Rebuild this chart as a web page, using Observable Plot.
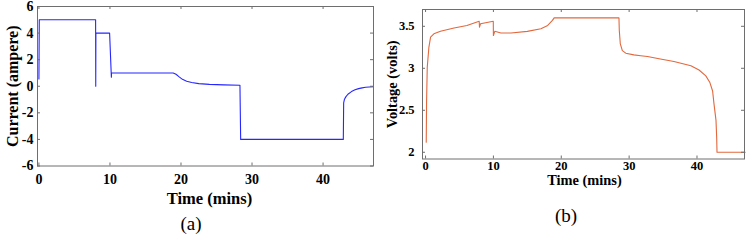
<!DOCTYPE html>
<html><head><meta charset="utf-8">
<script src="https://cdn.jsdelivr.net/npm/d3@7"></script>
<script src="https://cdn.jsdelivr.net/npm/@observablehq/plot@0.6"></script>
<style>
body{margin:0;background:#fff;}
#wrap{position:relative;width:747px;height:243px;overflow:hidden;font-family:"Liberation Serif","Times New Roman",serif;background:#fff;}
.panel{position:absolute;top:0;}
.cap{position:absolute;font-size:19px;line-height:1;transform:translate(-50%,-50%);white-space:nowrap;color:#000;}
</style></head><body>
<div id="wrap"></div>
<script>
// ---- Panel (a): current vs time ----
const timeA = [0, 0.05, 7.98, 8.0, 8.02, 9.95, 10.2, 10.22, 18.9, 19.3, 19.7, 20.2, 20.8, 21.5, 22.5, 24, 26, 28.3, 28.4, 42.85, 42.9, 43.0, 43.2, 43.5, 44, 44.5, 45, 45.5, 46, 46.5, 47.1];
const currentA = [0.55, 5.0, 5.0, 0.0, 4.0, 4.0, 0.68, 1.0, 1.0, 0.9, 0.72, 0.52, 0.38, 0.28, 0.2, 0.14, 0.1, 0.08, -4.0, -4.0, -1.25, -1.0, -0.8, -0.6, -0.4, -0.27, -0.18, -0.12, -0.08, -0.06, -0.04];
const xTicks = [0, 10, 20, 30, 40];
const yTicksA = [-6, -4, -2, 0, 2, 4, 6];
const xLabel = ["Time (mins)"];
const yLabelA = ["Current (ampere)"];
const captionA = "(a)";

// ---- Panel (b): voltage vs time ----
const timeB = [0.1, 0.15, 0.25, 0.49, 0.74, 1.23, 2.2, 4.2, 6.1, 7.9, 7.95, 8.1, 9.98, 10.0, 10.2, 11.1, 12.6, 15.0, 17.0, 18.0, 18.7, 18.95, 28.5, 28.55, 28.7, 29.0, 29.5, 30.7, 31.7, 32.7, 34.6, 36.6, 39.1, 40.3, 41.3, 41.9, 42.3, 42.5, 42.8, 42.9, 42.95, 47.1];
const voltageB = [2.12, 2.6, 3.01, 3.25, 3.37, 3.41, 3.44, 3.48, 3.51, 3.56, 3.49, 3.53, 3.56, 3.39, 3.44, 3.42, 3.42, 3.44, 3.47, 3.51, 3.57, 3.6, 3.6, 3.45, 3.29, 3.21, 3.18, 3.16, 3.15, 3.14, 3.11, 3.08, 3.03, 2.98, 2.91, 2.83, 2.73, 2.58, 2.38, 2.18, 2.0, 2.0];
const yTicksB = [2, 2.5, 3, 3.5];
const yLabelB = ["Voltage (volts)"];
const captionB = "(b)";

const frameColor = "#6e6e6e";
const font = '"Liberation Serif","Times New Roman",serif';

function panel(cfg) {
  const data = cfg.t.map((t, i) => ({t, v: cfg.v[i]}));
  const fw = cfg.width - cfg.ml - cfg.mr;
  const fh = cfg.height - cfg.mt - cfg.mb;
  const tl = 3;
  return Plot.plot({
    width: cfg.width,
    height: cfg.height,
    marginLeft: cfg.ml, marginRight: cfg.mr, marginTop: cfg.mt, marginBottom: cfg.mb,
    style: {fontFamily: font, fontWeight: "bold", background: "transparent", color: "#000", overflow: "visible"},
    x: {domain: cfg.xDomain},
    y: {domain: cfg.yDomain},
    marks: [
      Plot.line(data, {x: "t", y: "v", stroke: cfg.color, strokeWidth: 1.1}),
      Plot.frame({stroke: frameColor, strokeWidth: 1}),
      Plot.tickX(xTicks, {x: d => d, insetTop: fh - tl, stroke: frameColor}),
      Plot.tickX(xTicks, {x: d => d, insetBottom: fh - tl, stroke: frameColor}),
      Plot.tickY(cfg.yTicks, {y: d => d, insetRight: fw - tl, stroke: frameColor}),
      Plot.tickY(cfg.yTicks, {y: d => d, insetLeft: fw - tl, stroke: frameColor}),
      Plot.axisX(xTicks, {tickSize: 0, tickPadding: cfg.xPad, fontSize: cfg.tickFont, label: null, tickFormat: d => String(d)}),
      Plot.axisY(cfg.yTicks, {tickSize: 0, tickPadding: cfg.yPad, fontSize: cfg.tickFont, label: null, tickFormat: d => String(d)}),
      Plot.text(xLabel, {text: d => d, frameAnchor: "bottom", dy: cfg.xLabDy, dx: cfg.xLabDx, textAnchor: "middle", lineAnchor: "middle", fontSize: cfg.labFont, fontWeight: "bold"}),
      Plot.text(cfg.yLabel, {text: d => d, frameAnchor: "left", dx: cfg.yLabDx, rotate: -90, textAnchor: "middle", lineAnchor: "middle", fontSize: cfg.yLabFont, fontWeight: "bold"})
    ]
  });
}

const wrap = document.getElementById("wrap");

const pa = panel({
  t: timeA, v: currentA, yTicks: yTicksA, yLabel: yLabelA,
  width: 374, height: 243, ml: 37, mr: 1, mt: 6, mb: 77.5,
  xDomain: [-0.2, 47.1], yDomain: [-6, 6], color: "#2626ff",
  xPad: 8, yPad: 4, tickFont: 14, labFont: 16.5, yLabFont: 16,
  xLabDy: 33, xLabDx: 4, yLabDx: -25
});
const da = document.createElement("div");
da.className = "panel"; da.style.left = "0px";
da.appendChild(pa);
wrap.appendChild(da);

const pb = panel({
  t: timeB, v: voltageB, yTicks: yTicksB, yLabel: yLabelB,
  width: 373, height: 243, ml: 48, mr: 3, mt: 9, mb: 84.5,
  xDomain: [-0.45, 47.0], yDomain: [1.92, 3.7], color: "#e2683e",
  xPad: 2, yPad: 8, tickFont: 12.5, labFont: 14.4, yLabFont: 14.4,
  xLabDy: 21.5, xLabDx: 1, yLabDx: -30
});
const db = document.createElement("div");
db.className = "panel"; db.style.left = "374px";
db.appendChild(pb);
wrap.appendChild(db);

function cap(text, x, y) {
  const c = document.createElement("div");
  c.className = "cap";
  c.textContent = text;
  c.style.left = x + "px";
  c.style.top = y + "px";
  wrap.appendChild(c);
}
cap(captionA, 191, 223.3);
cap(captionB, 566, 215.3);
</script>
</body></html>
